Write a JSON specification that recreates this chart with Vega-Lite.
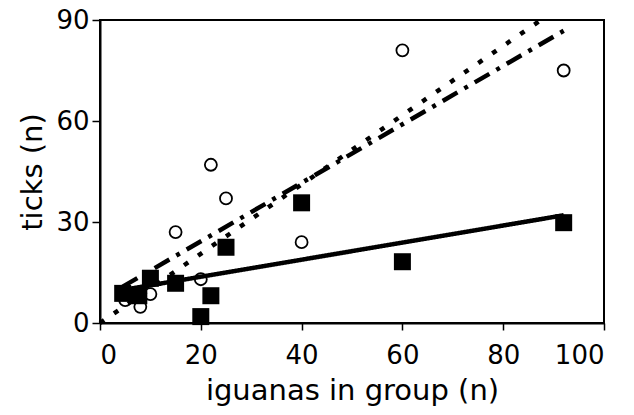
{
  "$schema": "https://vega.github.io/schema/vega-lite/v6.json",
  "width": 504,
  "height": 303,
  "autosize": "none",
  "padding": {"left": 100, "top": 20, "right": 30, "bottom": 92},
  "background": "white",
  "config": {
    "view": {"stroke": "black", "strokeWidth": 2},
    "axis": {
      "grid": false,
      "domainColor": "black",
      "domainWidth": 2,
      "tickColor": "black",
      "tickWidth": 1.5,
      "labelFont": "DejaVu Sans",
      "titleFont": "DejaVu Sans",
      "labelFontSize": 26,
      "titleFontSize": 29,
      "titleFontWeight": "normal",
      "labelColor": "black",
      "titleColor": "black",
      "labelOverlap": false
    }
  },
  "datasets": {
    "points": [
      {"group": "open", "iguanas": 60, "ticks": 81},
      {"group": "open", "iguanas": 92, "ticks": 75},
      {"group": "open", "iguanas": 22, "ticks": 47},
      {"group": "open", "iguanas": 25, "ticks": 37},
      {"group": "open", "iguanas": 15, "ticks": 27},
      {"group": "open", "iguanas": 40, "ticks": 24},
      {"group": "open", "iguanas": 20, "ticks": 13},
      {"group": "open", "iguanas": 10, "ticks": 8.6},
      {"group": "open", "iguanas": 8, "ticks": 4.8},
      {"group": "open", "iguanas": 5, "ticks": 6.8},
      {"group": "filled", "iguanas": 4.5, "ticks": 8.8},
      {"group": "filled", "iguanas": 7.7, "ticks": 8.1},
      {"group": "filled", "iguanas": 10, "ticks": 13.3},
      {"group": "filled", "iguanas": 15, "ticks": 11.8},
      {"group": "filled", "iguanas": 20, "ticks": 1.9},
      {"group": "filled", "iguanas": 22, "ticks": 8.1},
      {"group": "filled", "iguanas": 25, "ticks": 22.5},
      {"group": "filled", "iguanas": 40, "ticks": 35.7},
      {"group": "filled", "iguanas": 60, "ticks": 18.2},
      {"group": "filled", "iguanas": 92, "ticks": 29.8}
    ],
    "lines": [
      {"series": "solid", "iguanas": 4.5, "ticks": 9.8},
      {"series": "solid", "iguanas": 92, "ticks": 32},
      {"series": "dashdot", "iguanas": 4.5, "ticks": 10.8},
      {"series": "dashdot", "iguanas": 92, "ticks": 86.8},
      {"series": "dotted", "iguanas": 0, "ticks": 0},
      {"series": "dotted", "iguanas": 87, "ticks": 89.5}
    ]
  },
  "encoding": {
    "x": {
      "field": "iguanas",
      "type": "quantitative",
      "scale": {"domain": [0, 100], "nice": false},
      "axis": {"title": "iguanas in group (n)", "values": [0, 20, 40, 60, 80, 100], "tickSize": 7, "labelPadding": 12, "titlePadding": 8}
    },
    "y": {
      "field": "ticks",
      "type": "quantitative",
      "scale": {"domain": [0, 90], "nice": false},
      "axis": {"title": "ticks (n)", "values": [0, 30, 60, 90], "tickSize": 8, "labelPadding": 3, "titlePadding": 8}
    }
  },
  "layer": [
    {
      "data": {"name": "points"},
      "transform": [{"filter": "datum.group === 'open'"}],
      "mark": {"type": "point", "shape": "circle", "size": 144, "filled": false, "stroke": "black", "strokeWidth": 1.8, "opacity": 1}
    },
    {
      "data": {"name": "lines"},
      "mark": {"type": "line", "color": "black", "strokeWidth": 4.5, "strokeCap": "butt"},
      "encoding": {
        "detail": {"field": "series"},
        "strokeDash": {
          "field": "series",
          "type": "nominal",
          "scale": {"domain": ["solid", "dashdot", "dotted"], "range": [[1, 0], [17, 8, 4, 8], [5, 12]]},
          "legend": null
        }
      }
    },
    {
      "data": {"name": "points"},
      "transform": [{"filter": "datum.group === 'filled'"}],
      "mark": {"type": "point", "shape": "square", "size": 289, "filled": true, "color": "black", "opacity": 1}
    }
  ]
}
